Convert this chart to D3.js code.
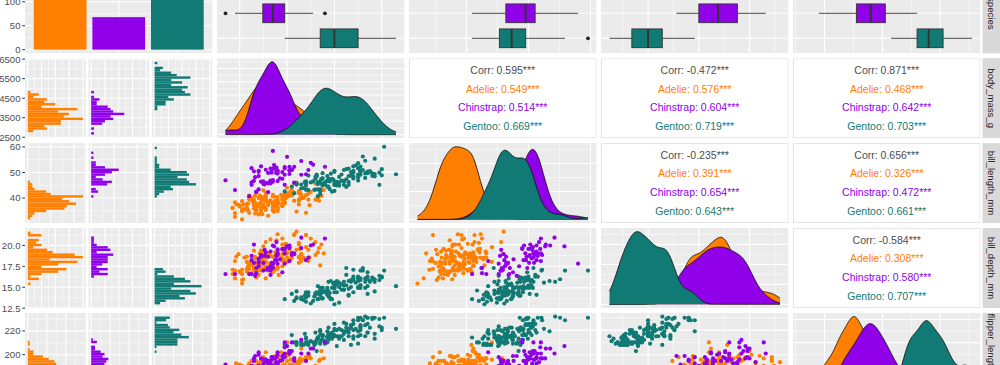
<!DOCTYPE html>
<html><head><meta charset="utf-8">
<script src="https://cdn.jsdelivr.net/npm/d3@7"></script>
<style>body{margin:0;background:#fff;} svg{display:block;font-family:"Liberation Sans",Arial,sans-serif;}</style>
</head><body><svg id="c" width="1000" height="365"></svg>
<script>
const species = ["Adelie","Chinstrap","Gentoo"];
const speciesColors = ["#FF7F00","#9000E9","#117A74"];
const speciesCounts = [152, 68, 124];
const variables = ["species","body_mass_g","bill_length_mm","bill_depth_mm","flipper_length_mm"];
// each row: bill_length_mm, bill_depth_mm, flipper_length_mm, body_mass_g
const adelie = [
[39.1,18.7,181,3750],[39.5,17.4,186,3800],[40.3,18,195,3250],[36.7,19.3,193,3450],[39.3,20.6,190,3650],[38.9,17.8,181,3625],[39.2,19.6,195,4675],[34.1,18.1,193,3475],[42,20.2,190,4250],[37.8,17.1,186,3300],[37.8,17.3,180,3700],[41.1,17.6,182,3200],[38.6,21.2,191,3800],[34.6,21.1,198,4400],[36.6,17.8,185,3700],[38.7,19,195,3450],[42.5,20.7,197,4500],[34.4,18.4,184,3325],[46,21.5,194,4200],
[37.8,18.3,174,3400],[37.7,18.7,180,3600],[35.9,19.2,189,3800],[38.2,18.1,185,3950],[38.8,17.2,180,3800],[35.3,18.9,187,3800],[40.6,18.6,183,3550],[40.5,17.9,187,3200],[37.9,18.6,172,3150],[40.5,18.9,180,3950],
[39.5,16.7,178,3250],[37.2,18.1,178,3900],[39.5,17.8,188,3300],[40.9,18.9,184,3900],[36.4,17,195,3325],[39.2,21.1,196,4150],[38.8,20,190,3950],[42.2,18.5,180,3550],[37.6,19.3,181,3300],[39.8,19.1,184,4650],[36.5,18,182,3150],[40.8,18.4,195,3900],[36,18.5,186,3100],[44.1,19.7,196,4400],[37,16.9,185,3000],[39.6,18.8,190,4600],[41.1,19,182,3425],[37.5,18.9,179,2975],[36,17.9,190,3450],[42.3,21.2,191,4150],
[39.6,17.7,186,3500],[40.1,18.9,188,4300],[35,17.9,190,3450],[42,19.5,200,4050],[34.5,18.1,187,2900],[41.4,18.6,191,3700],[39,17.5,186,3550],[40.6,18.8,193,3800],[36.5,16.6,181,2850],[37.6,19.1,194,3750],[35.7,16.9,185,3150],[41.3,21.1,195,4400],[37.6,17,185,3600],[41.1,18.2,192,4050],[36.4,17.1,184,2850],[41.6,18,192,3950],[35.5,16.2,195,3350],[41.1,19.1,188,4100],
[35.9,16.6,190,3050],[41.8,19.4,198,4450],[33.5,19,190,3600],[39.7,18.4,190,3900],[39.6,17.2,196,3550],[45.8,18.9,197,4150],[35.5,17.5,190,3700],[42.8,18.5,195,4250],[40.9,16.8,191,3700],[37.2,19.4,184,3900],[36.2,16.1,187,3550],[42.1,19.1,195,4000],[34.6,17.2,189,3200],[42.9,17.6,196,4700],[36.7,18.8,187,3800],[35.1,19.4,193,4200],
[37.3,17.8,191,3350],[41.3,20.3,194,3550],[36.3,19.5,190,3800],[36.9,18.6,189,3500],[38.3,19.2,189,3950],[38.9,18.8,190,3600],[35.7,18,202,3550],[41.1,18.1,205,4300],[34,17.1,185,3400],[39.6,18.1,186,4450],[36.2,17.3,187,3300],[40.8,18.9,208,4300],[38.1,18.6,190,3700],[40.3,18.5,196,4350],[33.1,16.1,178,2900],[43.2,18.5,192,4100],
[35,17.9,192,3725],[41,20,203,4725],[37.7,16,183,3075],[37.8,20,190,4250],[37.9,18.6,193,2925],[39.7,18.9,184,3550],[38.6,17.2,199,3750],[38.2,20,190,3900],[38.1,17,181,3175],[43.2,19,197,4775],[38.1,16.5,198,3825],[45.6,20.3,191,4600],[39.7,17.7,193,3200],[42.2,19.5,197,4275],[39.6,20.7,191,3900],[42.7,18.3,196,4075],
[38.6,17,188,2900],[37.3,20.5,199,3775],[35.7,17,189,3350],[41.1,18.6,189,3325],[36.2,17.2,187,3150],[37.7,19.8,198,3500],[40.2,17,176,3450],[41.4,18.5,202,3875],[35.2,15.9,186,3050],[40.6,19,199,4000],[38.8,17.6,191,3275],[41.5,18.3,195,4300],[39,17.1,191,3050],[44.1,18,210,4000],[38.5,17.9,190,3325],[43.1,19.2,197,3500],
[36.8,18.5,193,3500],[37.5,18.5,199,4475],[38.1,17.6,187,3425],[41.1,17.5,190,3900],[35.6,17.5,191,3175],[40.2,20.1,200,3975],[37,16.5,185,3400],[39.7,17.9,193,4250],[40.2,17.1,193,3400],[40.6,17.2,187,3475],[32.1,15.5,188,3050],[40.7,17,190,3725],[37.3,16.8,192,3000],[39,18.7,185,3650],[39.2,18.6,190,4250],[36.6,18.4,184,3475],[36,17.8,195,3450],[37.8,18.1,193,3750],[36,17.1,187,3700],[41.5,18.5,201,4000]
];
const gentoo = [
[46.1,13.2,211,4500],[50,16.3,230,5700],[48.7,14.1,210,4450],[50,15.2,218,5700],[47.6,14.5,215,5400],[46.5,13.5,210,4550],[45.4,14.6,211,4800],[46.7,15.3,219,5200],[43.3,13.4,209,4400],[46.8,15.4,215,5150],[40.9,13.7,214,4650],[49,16.1,216,5550],[45.5,13.7,214,4650],[48.4,14.6,213,5850],[45.8,14.6,210,4200],[49.3,15.7,217,5850],[42,13.5,210,4150],[49.2,15.2,221,6300],[46.2,14.5,209,4800],[48.7,15.1,222,5350],[50.2,14.3,218,5700],[45.1,14.5,215,5000],[46.5,14.5,213,4400],[46.3,15.8,215,5050],[42.9,13.1,215,5000],[46.1,15.1,215,5100],[44.5,14.3,216,4100],[47.8,15,215,5650],[48.2,14.3,210,4600],[50,15.3,220,5550],[47.3,15.3,222,5250],[42.8,14.2,209,4700],[45.1,14.5,207,5050],[59.6,17,230,6050],
[49.1,14.8,220,5150],[48.4,16.3,220,5400],[42.6,13.7,213,4950],[44.4,17.3,219,5250],[44,13.6,208,4350],[48.7,15.7,208,5350],[42.7,13.7,208,3950],[49.6,16,225,5700],[45.3,13.7,210,4300],[49.6,15,216,4750],[50.5,15.9,222,5550],[43.6,13.9,217,4900],[45.5,13.9,210,4200],[50.5,15.9,225,5400],[44.9,13.3,213,5100],[45.2,15.8,215,5300],[46.6,14.2,210,4850],[48.5,14.1,220,5300],[45.1,14.4,210,4400],[50.1,15,225,5000],[46.5,14.4,217,4900],[45,15.4,220,5050],[43.8,13.9,208,4300],[45.5,15,220,5000],[43.2,14.5,208,4450],[50.4,15.3,224,5550],[45.3,13.8,208,4200],[46.2,14.9,221,5300],[45.7,13.9,214,4400],[54.3,15.7,231,5650],[45.8,14.2,219,4700],[49.8,16.8,230,5700],[46.2,14.4,214,4650],[49.5,16.2,229,5800],[43.5,14.2,220,4700],[50.7,15,223,5550],[47.7,15,216,4750],[46.4,15.6,221,5000],[48.2,15.6,221,5100],[46.5,14.8,217,5200],[46.4,15,216,4700],[48.6,16,230,5800],[47.5,14.2,209,4600],[51.1,16.3,220,6000],[45.2,13.8,215,4750],[45.2,16.4,223,5950],
[49.1,14.5,212,4625],[52.5,15.6,221,5450],[47.4,14.6,212,4725],[50,15.9,224,5350],[44.9,13.8,212,4750],[50.8,17.3,228,5600],[43.4,14.4,218,4600],[51.3,14.2,218,5300],[47.5,14,212,4875],[52.1,17,230,5550],[47.5,15,218,4950],[52.2,17.1,228,5400],[45.5,14.5,212,4750],[49.5,16.1,224,5650],[44.5,14.7,214,4850],[50.8,15.7,226,5200],[49.4,15.8,216,4925],[46.9,14.6,222,4875],[48.4,14.4,203,4625],[51.1,16.5,225,5250],[48.5,15,219,4850],[55.9,17,228,5600],[47.2,15.5,215,4975],[49.1,15,228,5500],[47.3,13.8,216,4725],[46.8,16.1,215,5500],[41.7,14.7,210,4700],[53.4,15.8,219,5500],[43.3,14,208,4575],[48.1,15.1,209,5500],[50.5,15.2,216,5000],[49.8,15.9,229,5950],[43.5,15.2,213,4650],[51.5,16.3,230,5500],[46.2,14.1,217,4375],[55.1,16,230,5850],[44.5,15.7,217,4875],[48.8,16.2,222,6000],[47.2,13.7,214,4925],[46.8,14.3,215,4850],[50.4,15.7,222,5750],[45.2,14.8,212,5200],[49.9,16.1,213,5400]
];
const chinstrap = [
[46.5,17.9,192,3500],[50,19.5,196,3900],[51.3,19.2,193,3650],[45.4,18.7,188,3525],[52.7,19.8,197,3725],[45.2,17.8,198,3950],[46.1,18.2,178,3250],[51.3,18.2,197,3750],[46,18.9,195,4150],[51.3,19.9,198,3700],[46.6,17.8,193,3800],[51.7,20.3,194,3775],[47,17.3,185,3700],[52,18.1,201,4050],[45.9,17.1,190,3575],[50.5,19.6,201,4050],[50.3,20,197,3300],[58,17.8,181,3700],[46.4,18.6,190,3450],[49.2,18.2,195,4400],[42.4,17.3,181,3600],[48.5,17.5,191,3400],[43.2,16.6,187,2900],[50.6,19.4,193,3800],[46.7,17.9,195,3300],[52,19,197,4150],[50.5,18.4,200,3400],[49.5,19,200,3800],[46.4,17.8,191,3700],[52.8,20,205,4550],[40.9,16.6,187,3200],[54.2,20.8,201,4300],[42.5,16.7,187,3350],[51,18.8,203,4100],
[49.7,18.6,195,3600],[47.5,16.8,199,3900],[47.6,18.3,195,3850],[52,20.7,210,4800],[46.9,16.6,192,2700],[53.5,19.9,205,4500],[49,19.5,210,3950],[46.2,17.5,187,3650],[50.9,19.1,196,3550],[45.5,17,196,3500],[50.9,17.9,196,3675],[50.8,18.5,201,4450],[50.1,17.9,190,3400],[49,19.6,212,4300],[51.5,18.7,187,3250],[49.8,17.3,198,3675],[48.1,16.4,199,3325],[51.4,19,201,3950],[45.7,17.3,193,3600],[50.7,19.7,203,4050],[42.5,17.3,187,3350],[52.2,18.8,197,3450],[45.2,16.6,191,3250],[49.3,19.9,203,4050],[50.2,18.8,202,3800],[45.6,19.4,194,3525],[51.9,19.5,206,3950],[46.8,16.5,189,3650],[45.7,17,195,3650],[55.8,19.8,207,4000],[43.5,18.1,202,3400],[49.6,18.2,193,3775],[50.8,19,210,4100],[50.2,18.7,198,3775]
];
const columnTicks = {body_mass_g:[3000,4000,5000,6000], bill_length_mm:[40,50,60], bill_depth_mm:[15,17.5,20], flipper_length_mm:[180,200,220]};
const rowTicks = {species:[0,50,100,150], body_mass_g:[2500,3500,4500,5500,6500], bill_length_mm:[40,50,60], bill_depth_mm:[12.5,15,17.5,20], flipper_length_mm:[180,200,220]};
const corrLabels = ["Corr","Adelie","Chinstrap","Gentoo"];
const corrBodyBillLength = ["0.595","0.549","0.514","0.669"];
const corrBodyBillDepth = ["-0.472","0.576","0.604","0.719"];
const corrBodyFlipper = ["0.871","0.468","0.642","0.703"];
const corrBillLengthDepth = ["-0.235","0.391","0.654","0.643"];
const corrBillLengthFlipper = ["0.656","0.326","0.472","0.661"];
const corrBillDepthFlipper = ["-0.584","0.308","0.580","0.707"];

const corrTable = {
  "body_mass_g|bill_length_mm": corrBodyBillLength,
  "body_mass_g|bill_depth_mm": corrBodyBillDepth,
  "body_mass_g|flipper_length_mm": corrBodyFlipper,
  "bill_length_mm|bill_depth_mm": corrBillLengthDepth,
  "bill_length_mm|flipper_length_mm": corrBillLengthFlipper,
  "bill_depth_mm|flipper_length_mm": corrBillDepthFlipper
};
const colKey = {bill_length_mm:0, bill_depth_mm:1, flipper_length_mm:2, body_mass_g:3};
const groups = [adelie, chinstrap, gentoo];
const drawOrder = [0, 2, 1];

const L = {x0:25, px:192, w:187.5, y0:-26.7, py:84.9, h:80};
const H = 365;
function box(ci, ri){ return {x:L.x0+ci*L.px, y:L.y0+ri*L.py, w:L.w, h:L.h}; }
function vals(si, v){ return groups[si].map(r=>r[colKey[v]]); }
function allVals(v){ return [0,1,2].flatMap(si=>vals(si,v)); }
function dataDomain(v){ const [a,b]=d3.extent(allVals(v)); const e=(b-a)*0.05; return [a-e,b+e]; }
function histSpec(v){ const [a,b]=d3.extent(allVals(v)); const w=(b-a)/29; const lo=a-w/2; const e=30*w*0.05; return {lo, w, n:30, domain:[lo-e, lo+30*w+e]}; }
function minorsOf(majors, dom){
  if (majors.length<2) return [];
  const s = majors[1]-majors[0]; const out=[];
  let t = majors[0]-s/2;
  while (t - s >= dom[0]) t -= s;
  for (; t <= dom[1]; t += s) if (t >= dom[0]) out.push(t);
  return out;
}
function bwNrd0(x){
  const s=[...x].sort(d3.ascending); const sd=d3.deviation(s);
  const iqr=d3.quantileSorted(s,0.75)-d3.quantileSorted(s,0.25);
  let lo=Math.min(sd, iqr/1.34); if(!lo) lo=sd||1;
  return 0.9*lo*Math.pow(s.length,-0.2);
}
function kde(x, a, b, n=512){
  const bw=bwNrd0(x); const out=[]; const k=1/(x.length*bw*Math.sqrt(2*Math.PI));
  for (let i=0;i<n;i++){ const t=a+(b-a)*i/(n-1); let s=0; for(const v of x){ const z=(t-v)/bw; s+=Math.exp(-0.5*z*z);} out.push([t,s*k]); }
  return out;
}

const svg = d3.select("#c");
const defs = svg.append("defs");
let clipN = 0;
function clipFor(p){ const id="cp"+(clipN++); defs.append("clipPath").attr("id",id).append("rect").attr("x",p.x).attr("y",p.y).attr("width",p.w).attr("height",p.h); return `url(#${id})`; }

function grid(g, p, xs, xMaj, xMin, ys, yMaj, yMin){
  g.append("rect").attr("x",p.x).attr("y",p.y).attr("width",p.w).attr("height",p.h).attr("fill","#EBEBEB");
  const gl = g.append("g").attr("stroke","#fff");
  gl.selectAll("line.xm").data(xMin).join("line").attr("x1",d=>xs(d)).attr("x2",d=>xs(d)).attr("y1",p.y).attr("y2",p.y+p.h).attr("stroke-width",0.55);
  gl.selectAll("line.ym").data(yMin).join("line").attr("y1",d=>ys(d)).attr("y2",d=>ys(d)).attr("x1",p.x).attr("x2",p.x+p.w).attr("stroke-width",0.55);
  gl.selectAll("line.xM").data(xMaj).join("line").attr("x1",d=>xs(d)).attr("x2",d=>xs(d)).attr("y1",p.y).attr("y2",p.y+p.h).attr("stroke-width",1.1);
  gl.selectAll("line.yM").data(yMaj).join("line").attr("y1",d=>ys(d)).attr("y2",d=>ys(d)).attr("x1",p.x).attr("x2",p.x+p.w).attr("stroke-width",1.1);
}

function barScaleY(p){ const M=d3.max(speciesCounts); return d3.scaleLinear().domain([-0.05*M,1.05*M]).range([p.y+p.h,p.y]); }

function drawBar(g,p){
  const xs=d3.scalePoint().domain(species).range([p.x,p.x+p.w]).padding(0.6);
  const ys=barScaleY(p);
  const yMaj=rowTicks.species;
  grid(g,p,xs,species,[],ys,yMaj,minorsOf(yMaj,ys.domain()));
  const bw=xs.step()*0.9;
  g.selectAll("rect.bar").data(species).join("rect")
    .attr("x",d=>xs(d)-bw/2).attr("width",bw)
    .attr("y",(d,i)=>ys(speciesCounts[i])).attr("height",(d,i)=>ys(0)-ys(speciesCounts[i]))
    .attr("fill",(d,i)=>speciesColors[i]);
}

function drawBoxplot(g,p,v){
  const xs=d3.scaleLinear().domain(dataDomain(v)).range([p.x,p.x+p.w]);
  const ys=d3.scalePoint().domain(species).range([p.y,p.y+p.h]).padding(0.6);
  const xMaj=columnTicks[v];
  grid(g,p,xs,xMaj,minorsOf(xMaj,xs.domain()),ys,species,[]);
  const bh=ys.step()*0.75;
  species.forEach((s,si)=>{
    const arr=vals(si,v).slice().sort(d3.ascending);
    const q1=d3.quantileSorted(arr,0.25), md=d3.quantileSorted(arr,0.5), q3=d3.quantileSorted(arr,0.75), iqr=q3-q1;
    const inside=arr.filter(d=>d>=q1-1.5*iqr && d<=q3+1.5*iqr);
    const out=arr.filter(d=>d<q1-1.5*iqr || d>q3+1.5*iqr);
    const cy=ys(s);
    const bg=g.append("g");
    bg.append("line").attr("x1",xs(d3.min(inside))).attr("x2",xs(q1)).attr("y1",cy).attr("y2",cy).attr("stroke","#333").attr("stroke-width",0.9);
    bg.append("line").attr("x1",xs(q3)).attr("x2",xs(d3.max(inside))).attr("y1",cy).attr("y2",cy).attr("stroke","#333").attr("stroke-width",0.9);
    bg.append("rect").attr("x",xs(q1)).attr("width",xs(q3)-xs(q1)).attr("y",cy-bh/2).attr("height",bh).attr("fill",speciesColors[si]).attr("stroke","#333").attr("stroke-width",0.9);
    bg.append("line").attr("x1",xs(md)).attr("x2",xs(md)).attr("y1",cy-bh/2).attr("y2",cy+bh/2).attr("stroke","#333").attr("stroke-width",1.9);
    bg.selectAll("circle").data(out).join("circle").attr("cx",d=>xs(d)).attr("cy",cy).attr("r",1.9).attr("fill","#222");
  });
}

function drawFacetHist(g,p,v){
  const hs=histSpec(v);
  const ys=d3.scaleLinear().domain(hs.domain).range([p.y+p.h,p.y]);
  const counts=species.map((s,si)=>{
    const c=new Array(hs.n).fill(0);
    vals(si,v).forEach(d=>{ let i=Math.ceil((d-hs.lo)/hs.w - 1e-9)-1; i=Math.max(0,Math.min(hs.n-1,i)); c[i]++; });
    return c;
  });
  const M=d3.max(counts.flat());
  const gap=2.75, sw=(p.w-2*gap)/3;
  species.forEach((s,si)=>{
    const sp={x:p.x+si*(sw+gap), y:p.y, w:sw, h:p.h};
    const xs=d3.scaleLinear().domain([-0.05*M,1.05*M]).range([sp.x,sp.x+sw]);
    const xMaj=d3.ticks(0,M,3);
    grid(g,sp,xs,xMaj,minorsOf(xMaj,xs.domain()),ys,rowTicks[v],minorsOf(rowTicks[v],ys.domain()));
    g.append("g").selectAll("rect").data(counts[si].map((c,i)=>({c,i})).filter(d=>d.c>0)).join("rect")
      .attr("x",xs(0)).attr("width",d=>xs(d.c)-xs(0))
      .attr("y",d=>ys(hs.lo+(d.i+1)*hs.w)).attr("height",d=>ys(hs.lo+d.i*hs.w)-ys(hs.lo+(d.i+1)*hs.w))
      .attr("fill",speciesColors[si]);
  });
}

function drawDensity(g,p,v){
  const xs=d3.scaleLinear().domain(dataDomain(v)).range([p.x,p.x+p.w]);
  const [a,b]=d3.extent(allVals(v));
  const curves=species.map((s,si)=>kde(vals(si,v),a,b));
  const M=d3.max(curves.flat(),d=>d[1]);
  const ys=d3.scaleLinear().domain([-0.05*M,1.05*M]).range([p.y+p.h,p.y]);
  const yMaj=d3.ticks(0,M*1.04,4);
  const xMaj=columnTicks[v];
  grid(g,p,xs,xMaj,minorsOf(xMaj,xs.domain()),ys,yMaj,minorsOf(yMaj,ys.domain()));
  const area=d3.area().x(d=>xs(d[0])).y0(ys(0)).y1(d=>ys(d[1]));
  const line=d3.line().x(d=>xs(d[0])).y(d=>ys(d[1]));
  curves.forEach((c,si)=>{
    g.append("path").attr("d",area(c)).attr("fill",speciesColors[si]);
    g.append("path").attr("d",line(c)).attr("fill","none").attr("stroke","#111").attr("stroke-width",0.9);
  });
}

function drawScatter(g,p,xv,yv){
  const xs=d3.scaleLinear().domain(dataDomain(xv)).range([p.x,p.x+p.w]);
  const ys=d3.scaleLinear().domain(dataDomain(yv)).range([p.y+p.h,p.y]);
  const xMaj=columnTicks[xv], yMaj=columnTicks[yv];
  grid(g,p,xs,xMaj,minorsOf(xMaj,xs.domain()),ys,yMaj,minorsOf(yMaj,ys.domain()));
  drawOrder.forEach(si=>{
    g.append("g").selectAll("circle").data(groups[si]).join("circle")
      .attr("cx",r=>xs(r[colKey[xv]])).attr("cy",r=>ys(r[colKey[yv]])).attr("r",2.1)
      .attr("fill",speciesColors[si]);
  });
}

function drawCorr(g,p,rv,cv){
  g.append("rect").attr("x",p.x+0.5).attr("y",p.y+0.5).attr("width",p.w-1).attr("height",p.h-1).attr("fill","#fff").attr("stroke","#E3E3E3").attr("stroke-width",1);
  const vals4=corrTable[`${rv}|${cv}`];
  const offs=[-28,-9.33,9.33,28];
  const cols=["#4D4D4D",...speciesColors];
  g.selectAll("text").data(vals4).join("text")
    .attr("x",p.x+p.w/2).attr("y",(d,i)=>p.y+p.h/2+offs[i]).attr("dy","0.35em")
    .attr("text-anchor","middle").attr("font-size",10.5).attr("fill",(d,i)=>cols[i])
    .text((d,i)=>`${corrLabels[i]}: ${d}***`);
}

for (let ri=0; ri<5; ri++) for (let ci=0; ci<5; ci++){
  const p=box(ci,ri);
  const g=svg.append("g").attr("clip-path",clipFor(p));
  const rv=variables[ri], cv=variables[ci];
  if (ri===0 && ci===0) drawBar(g,p);
  else if (ri===0) drawBoxplot(g,p,cv);
  else if (ci===0) drawFacetHist(g,p,rv);
  else if (ri===ci) drawDensity(g,p,cv);
  else if (ri>ci) drawScatter(g,p,cv,rv);
  else drawCorr(g,p,rv,cv);
}

// left axes (only ticks that fall inside the picture)
for (let ri=0; ri<5; ri++){
  const p=box(0,ri); const v=variables[ri];
  const ys = ri===0 ? barScaleY(p) : d3.scaleLinear().domain(histSpec(v).domain).range([p.y+p.h,p.y]);
  const fmt = v==="bill_depth_mm" ? d3.format(".1f") : d3.format("d");
  const ticks = rowTicks[v].filter(d=>ys(d)>=0 && ys(d)<=H);
  const ag=svg.append("g");
  ag.selectAll("line").data(ticks).join("line").attr("x1",p.x-2.75).attr("x2",p.x).attr("y1",d=>ys(d)).attr("y2",d=>ys(d)).attr("stroke","#333").attr("stroke-width",1);
  ag.selectAll("text").data(ticks).join("text").attr("x",p.x-4.5).attr("y",d=>ys(d)).attr("dy","0.35em")
    .attr("text-anchor","end").attr("font-size",9.6).attr("fill","#4D4D4D").text(d=>fmt(d));
}
// right strips
for (let ri=0; ri<5; ri++){
  const p=box(4,ri); const sx=p.x+p.w+2;
  svg.append("rect").attr("x",sx).attr("y",p.y).attr("width",20).attr("height",p.h).attr("fill","#D9D9D9");
  svg.append("text").attr("transform",`translate(${sx+8.5},${p.y+p.h/2}) rotate(90)`).attr("text-anchor","middle").attr("dy","0.35em")
    .attr("font-size",9.6).attr("fill","#1A1A1A").text(variables[ri]);
}
</script></body></html>
